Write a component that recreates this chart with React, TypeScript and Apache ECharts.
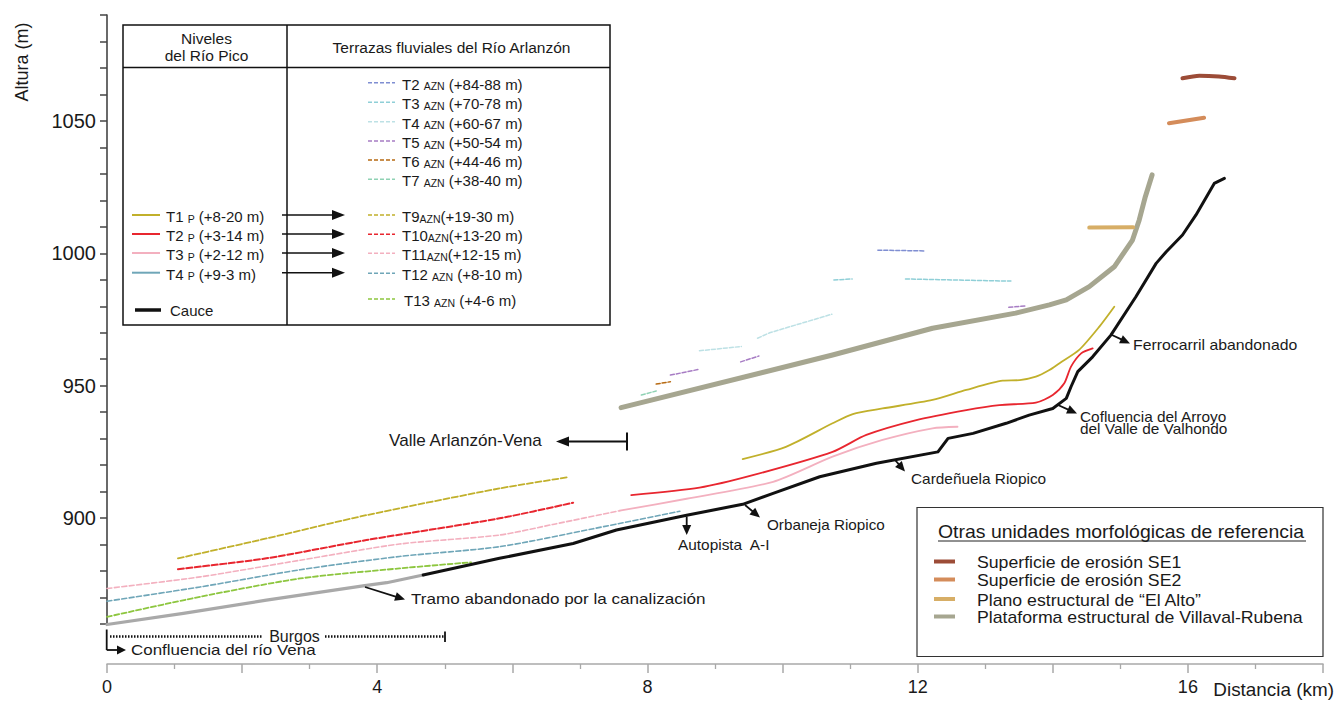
import React, { useEffect, useRef } from 'react';
import * as echarts from 'echarts';

const FONT = "'Liberation Sans', Arial, Helvetica, sans-serif";

// ---------------- DATA (distance km, altitude m) ----------------
const cauce = [[4.68, 878.5], [5.81, 884.8], [6.9, 890.4], [7.54, 895.5], [8.58, 901.1], [9.41, 905.2], [9.86, 909.3], [10.55, 915.6], [11.39, 920.7], [12.3, 925.0], [12.45, 930.1], [12.82, 932.0], [13.31, 935.8], [13.65, 938.9], [14.0, 941.4], [14.2, 945.2], [14.27, 949.6], [14.37, 955.3], [14.59, 960.9], [14.86, 969.1], [15.23, 983.6], [15.53, 996.2], [15.68, 1000.6], [15.92, 1006.9], [16.12, 1014.5], [16.39, 1026.4], [16.54, 1028.3]];
const cauceAbandonado = [[0.0, 859.8], [1.13, 864.0], [2.36, 869.0], [3.79, 874.4], [4.14, 875.6], [4.68, 878.5]];
const t13Azn = [[0.0, 862.7], [1.38, 870.3], [2.86, 877.2], [4.33, 881.0], [5.39, 883.3]];
const t12Azn = [[0.0, 868.6], [1.38, 874.0], [2.86, 880.5], [4.33, 885.5], [5.81, 889.2], [7.2, 896.0], [8.48, 902.6]];
const t11Azn = [[0.0, 873.4], [1.38, 877.8], [2.86, 884.1], [4.33, 890.2], [5.81, 893.6], [6.6, 897.6], [7.59, 902.8]];
const t10Azn = [[1.05, 880.7], [2.36, 884.8], [3.84, 891.7], [5.81, 899.9], [6.9, 905.8]];
const t9Azn = [[1.05, 884.8], [2.36, 892.3], [3.84, 901.1], [5.81, 911.2], [6.82, 915.4]];
const t3Pico = [[7.59, 902.8], [8.58, 907.3], [9.86, 913.7], [10.74, 923.2], [11.48, 929.5], [12.22, 933.9], [12.59, 934.5]];
const t2Pico = [[7.76, 908.7], [8.77, 911.5], [9.56, 916.2], [10.74, 925.0], [11.24, 931.4], [11.98, 937.0], [12.72, 940.8], [13.21, 942.7], [13.75, 943.6], [14.0, 946.5], [14.17, 950.9], [14.27, 957.2], [14.42, 962.2], [14.59, 964.1]];
const t1Pico = [[9.41, 922.3], [10.05, 926.9], [10.74, 935.8], [11.04, 939.3], [11.48, 941.4], [12.22, 944.6], [12.72, 948.4], [13.26, 951.9], [13.51, 952.1], [13.75, 953.4], [13.95, 955.9], [14.1, 958.5], [14.39, 963.5], [14.69, 972.3], [14.91, 979.8]];
const plataforma = [[7.61, 941.7], [10.74, 961.6], [12.22, 971.7], [13.45, 977.4], [13.95, 980.5], [14.2, 982.4], [14.54, 987.4], [14.91, 994.9], [15.18, 1005.0], [15.28, 1012.6], [15.37, 1021.4], [15.47, 1029.6]];
const elAlto = [[14.54, 1009.7], [15.19, 1009.8]];
const se2 = [[15.72, 1049.1], [16.24, 1051.2]];
const se1 = [[15.92, 1066.1], [16.17, 1067.1], [16.46, 1066.8], [16.69, 1066.1]];
const t7Seg = [[7.91, 946.5], [8.13, 948.0]];
const t6Seg = [[8.13, 950.6], [8.34, 951.5]];
const t5SegA = [[8.34, 954.0], [8.77, 956.2]];
const t5SegB = [[9.38, 959.0], [9.65, 961.2]];
const t5SegC = [[13.35, 979.6], [13.59, 980.1]];
const t4SegA = [[8.77, 963.2], [9.39, 964.8]];
const t4SegB = [[9.63, 967.9], [9.81, 970.0], [10.73, 977.0]];
const t3SegA = [[10.76, 989.9], [11.03, 990.3]];
const t3SegB = [[11.82, 990.3], [13.38, 989.5]];
const t2Seg = [[11.41, 1001.2], [12.09, 1000.9]];

// legend texts
const picoLabels = ['T1', 'T2', 'T3', 'T4'];
const picoRanges = ['(+8-20 m)', '(+3-14 m)', '(+2-12 m)', '(+9-3 m)'];
const aznLabels = ['T2', 'T3', 'T4', 'T5', 'T6', 'T7', 'T9', 'T10', 'T11', 'T12', 'T13'];
const aznRanges = ['(+84-88 m)', '(+70-78 m)', '(+60-67 m)', '(+50-54 m)', '(+44-46 m)', '(+38-40 m)', '(+19-30 m)', '(+13-20 m)', '(+12-15 m)', '(+8-10 m)', '(+4-6 m)'];
const otrasLabels = ['Superficie de erosión SE1', 'Superficie de erosión SE2', 'Plano estructural de \u201CEl Alto\u201D', 'Plataforma estructural de Villaval-Rubena'];

// ---------------- STYLES ----------------
const C = {
  yellow: '#c1b02b', red: '#e8262f', pink: '#f3b0bf', teal: '#6fa6b8', green: '#8dc63f',
  t2: '#7f8ed2', t3: '#8fcfd7', t4: '#bde1e5', t5: '#a77cc4', t6: '#b76a12', t7: '#8fd2b4',
  black: '#111111', grayCauce: '#a9a9a9', plataforma: '#a6a690', se1: '#9c4c37', se2: '#d48c5a', alto: '#d7ae66',
};
const DASH = [5, 2.5];
const picoColors = [C.yellow, C.red, C.pink, C.teal];
const aznColors = [C.t2, C.t3, C.t4, C.t5, C.t6, C.t7, C.yellow, C.red, C.pink, C.teal, C.green];
const otrasColors = [C.se1, C.se2, C.alto, C.plataforma];

function S(name: string, data: number[][], color: string, width: number, dash: number[] | null, z = 2, smooth: number | boolean = false) {
  return {
    type: 'line', name, data, showSymbol: false, symbol: 'none', silent: true, clip: false, z,
    smooth,
    lineStyle: { color, width, type: dash ? dash : 'solid', cap: 'round', join: 'round' },
  };
}

function txt(x: number, y: number, text: string, o: any = {}) {
  return {
    type: 'text', x, y, scaleX: o.sx ?? 1, rotation: o.rot ?? 0, silent: true, z: 10,
    style: {
      text, fill: o.color ?? '#1a1a1a', fontSize: o.size ?? 14, fontFamily: FONT,
      textAlign: o.align ?? 'left', align: o.align ?? 'left',
      textVerticalAlign: 'middle', verticalAlign: 'middle', rich: o.rich,
    },
  };
}
function ln(x1: number, y1: number, x2: number, y2: number, stroke = '#111', lineWidth = 1.5, dash?: number[]) {
  return { type: 'line', silent: true, z: 10, shape: { x1, y1, x2, y2 }, style: { stroke, lineWidth, lineDash: dash } };
}
function rect(x: number, y: number, width: number, height: number, stroke = '#111', lineWidth = 1.5) {
  return { type: 'rect', silent: true, z: 9, shape: { x, y, width, height }, style: { fill: '#fff', stroke, lineWidth } };
}
function arrow(x1: number, y1: number, x2: number, y2: number, hl = 10, hw = 9, lw = 1.8) {
  const dx = x2 - x1, dy = y2 - y1, L = Math.sqrt(dx * dx + dy * dy);
  const ux = dx / L, uy = dy / L, nx = -uy, ny = ux;
  const bx = x2 - ux * hl, by = y2 - uy * hl;
  return [
    ln(x1, y1, bx + ux, by + uy, '#111', lw),
    { type: 'polygon', silent: true, z: 10, shape: { points: [[x2, y2], [bx + nx * hw / 2, by + ny * hw / 2], [bx - nx * hw / 2, by - ny * hw / 2]] }, style: { fill: '#111' } },
  ];
}

const rich = {
  a: { fontSize: 15, lineHeight: 18, verticalAlign: 'bottom', fontFamily: FONT, fill: '#1a1a1a', color: '#1a1a1a' },
  s: { fontSize: 10.5, lineHeight: 11, verticalAlign: 'bottom', fontFamily: FONT, fill: '#1a1a1a', color: '#1a1a1a' },
};

function buildGraphic() {
  const G: any[] = [];
  // left legend box
  G.push(rect(123, 25, 487, 300));
  G.push(ln(123, 67.5, 610, 67.5));
  G.push(ln(287, 25, 287, 325));
  G.push(txt(206.5, 38, 'Niveles', { size: 15.5, align: 'center' }));
  G.push(txt(206.5, 55, 'del Río Pico', { size: 15.5, align: 'center' }));
  G.push(txt(451.5, 47, 'Terrazas fluviales del Río Arlanzón', { size: 15.5, align: 'center' }));
  const picoY = [215, 234, 253, 272.7];
  picoLabels.forEach((l, i) => {
    const y = picoY[i];
    G.push(ln(132, y, 160, y, picoColors[i], 2));
    G.push(txt(166, y, `{a|${l} }{s|P}{a| ${picoRanges[i]}}`, { rich }));
    G.push(...arrow(282, y, 345, y, 13, 10, 1.5));
  });
  G.push(ln(135, 310, 161, 310, '#111', 3.5));
  G.push(txt(170, 310, 'Cauce', { size: 15 }));
  const aznY = [82.7, 102.3, 121.7, 141, 160, 179.3, 215, 234.3, 253.3, 273.3, 299];
  aznLabels.forEach((l, i) => {
    const y = aznY[i];
    G.push(ln(368, y, 395, y, aznColors[i], 1.6, [4, 2]));
    const tight = l === 'T9' || l === 'T10' || l === 'T11';
    const s = tight ? `{a|${l}}{s|AZN}{a|${aznRanges[i]}}` : `{a|${l} }{s|AZN}{a| ${aznRanges[i]}}`;
    G.push(txt(l === 'T13' ? 404 : 402, y, s, { rich }));
  });

  // right legend box
  G.push(rect(917, 507.5, 406, 149, '#333', 1.2));
  G.push(txt(938, 531.5, 'Otras unidades morfológicas de referencia', { size: 18, sx: 1.08 }));
  G.push(ln(938, 541, 1306, 541, '#222', 1));
  const oY = [562.5, 580.5, 600, 617.5];
  otrasLabels.forEach((l, i) => {
    G.push(ln(934, oY[i] - 1, 955, oY[i] - 1, otrasColors[i], 4));
    G.push(txt(977, oY[i], l, { size: 17, sx: 1.04 }));
  });

  // axis names
  G.push(txt(22, 62, 'Altura (m)', { size: 18, align: 'center', rot: Math.PI / 2 }));
  G.push(txt(1334, 690, 'Distancia (km)', { size: 18, align: 'right', sx: 1.05 }));

  // annotations
  G.push(txt(389, 441, 'Valle Arlanzón-Vena', { size: 16, sx: 1.07 }));
  G.push(...arrow(627, 441.5, 556, 441.5, 13, 10, 1.8));
  G.push(ln(627, 432.5, 627, 450.5, '#111', 2));

  G.push(...arrow(365, 587, 405, 599.5));
  G.push(txt(411, 599, 'Tramo abandonado por la canalización', { size: 14, sx: 1.22 }));
  G.push(...arrow(686.7, 516.5, 686.7, 535));
  G.push(txt(678, 545, 'Autopista  A-I', { size: 14, sx: 1.1 }));
  G.push(...arrow(745, 505, 760, 517.5));
  G.push(txt(767, 525, 'Orbaneja Riopico', { size: 14, sx: 1.09 }));
  G.push(...arrow(895, 460, 905, 471.5));
  G.push(txt(911, 479.5, 'Cardeñuela Riopico', { size: 14, sx: 1.1 }));
  G.push(...arrow(1058, 405, 1077, 413.5));
  G.push(txt(1080, 417, 'Cofluencia del Arroyo', { size: 14, sx: 1.1 }));
  G.push(txt(1080, 429.5, 'del Valle de Valhondo', { size: 14, sx: 1.1 }));
  G.push(...arrow(1112, 335, 1130, 343.5));
  G.push(txt(1133, 345, 'Ferrocarril abandonado', { size: 14, sx: 1.13 }));

  // Burgos & confluencia
  G.push(ln(110, 636.5, 263, 636.5, '#111', 2.5, [1.5, 1.5]));
  G.push(txt(294.5, 636.5, 'Burgos', { size: 16, align: 'center' }));
  G.push(ln(325, 636.5, 444, 636.5, '#111', 2.5, [1.5, 1.5]));
  G.push(ln(445, 631.5, 445, 642, '#111', 1.8));
  G.push(ln(106.7, 629.5, 106.7, 650, '#111', 1.8));
  G.push(...arrow(106.7, 650, 126, 650, 9, 9, 1.8));
  G.push(txt(131, 650, 'Confluencia del río Vena', { size: 15, sx: 1.13 }));
  return G;
}

export default function App() {
  const ref = useRef<HTMLDivElement>(null);
  useEffect(() => {
    document.body.style.margin = '0';
    const chart = echarts.init(ref.current!, null, { renderer: 'svg' });
    const SM = 0.25;
    const option: any = {
      animation: false,
      backgroundColor: '#ffffff',
      grid: { left: 107, right: 12, top: 15, bottom: 78, containLabel: false },
      xAxis: {
        type: 'value', min: 0, max: 18, interval: 2, offset: 40,
        axisLine: { show: true, lineStyle: { color: '#a8a8a8', width: 1.5 } },
        axisTick: { show: true, length: 9, lineStyle: { color: '#a8a8a8', width: 1.5 } },
        minorTick: { show: true, splitNumber: 2, length: 5, lineStyle: { color: '#a8a8a8', width: 1.3 } },
        splitLine: { show: false },
        axisLabel: { fontSize: 18, color: '#1a1a1a', fontFamily: FONT, margin: 14, formatter: (v: number) => (v % 4 === 0 && v < 18 ? String(v) : '') },
      },
      yAxis: {
        type: 'value', min: 860, max: 1090, interval: 10,
        axisLine: { show: true, lineStyle: { color: '#444', width: 1.6 } },
        axisTick: { show: true, length: 7, lineStyle: { color: '#444', width: 1.5 } },
        splitLine: { show: false },
        axisLabel: { fontSize: 20, color: '#1a1a1a', fontFamily: FONT, margin: 11, formatter: (v: number) => (v % 50 === 0 ? String(v) : '') },
      },
      series: [
        S('Cauce abandonado', cauceAbandonado, C.grayCauce, 3.2, null),
        S('T13 AZN', t13Azn, C.green, 1.8, DASH, 2, SM),
        S('T12 AZN', t12Azn, C.teal, 1.6, DASH, 2, SM),
        S('T11 AZN', t11Azn, C.pink, 1.6, DASH, 2, SM),
        S('T3 P', t3Pico, C.pink, 1.8, null, 2, SM),
        S('T10 AZN', t10Azn, C.red, 2, [6, 2.5], 2, SM),
        S('T2 P', t2Pico, C.red, 1.8, null, 2, SM),
        S('T9 AZN', t9Azn, C.yellow, 1.8, [6, 2.5], 2, SM),
        S('T1 P', t1Pico, C.yellow, 1.8, null, 2, SM),
        S('Cauce', cauce, C.black, 3, null, 3),
        S('Plataforma', plataforma, C.plataforma, 5, null),
        S('El Alto', elAlto, C.alto, 4, null),
        S('SE2', se2, C.se2, 4, null),
        S('SE1', se1, C.se1, 4, null, 2, SM),
        S('T7 AZN', t7Seg, C.t7, 1.5, [4, 2]),
        S('T6 AZN', t6Seg, C.t6, 1.5, [4, 2]),
        S('T5 AZN a', t5SegA, C.t5, 1.5, [4, 2]),
        S('T5 AZN b', t5SegB, C.t5, 1.5, [4, 2]),
        S('T5 AZN c', t5SegC, C.t5, 1.5, [4, 2]),
        S('T4 AZN a', t4SegA, C.t4, 1.5, [4, 2]),
        S('T4 AZN b', t4SegB, C.t4, 1.5, [4, 2]),
        S('T3 AZN a', t3SegA, C.t3, 1.5, [4, 2]),
        S('T3 AZN b', t3SegB, C.t3, 1.5, [4, 2]),
        S('T2 AZN', t2Seg, C.t2, 1.5, [4, 2]),
      ],
      graphic: { elements: buildGraphic() },
    };
    chart.setOption(option);
    return () => chart.dispose();
  }, []);
  return <div ref={ref} style={{ width: 1335, height: 702 }} />;
}
